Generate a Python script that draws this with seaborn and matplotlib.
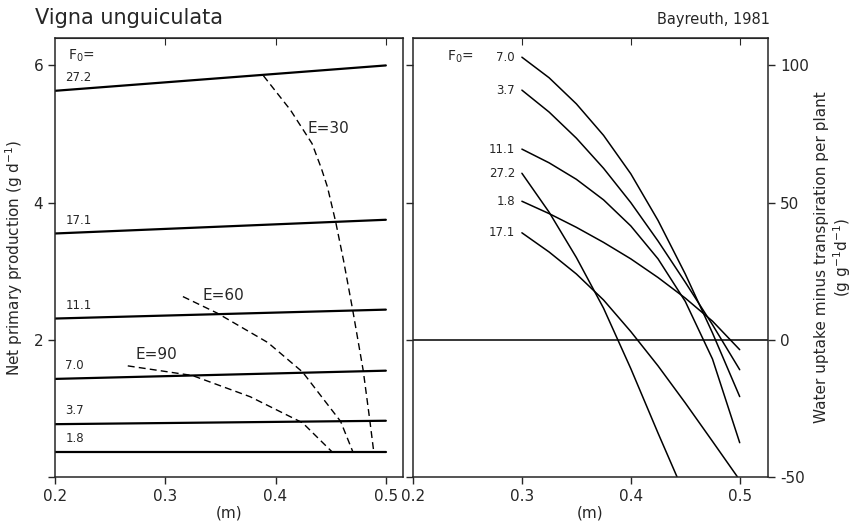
import numpy as np
import pandas as pd
import seaborn as sns
import matplotlib.pyplot as plt

sns.set_style("ticks")
plt.rcParams["font.family"] = ["DejaVu Sans"]

# left panel: net primary production (g/d) vs depth, one line per F0
x_npp = [0.2, 0.5]
npp_27_2 = [5.63, 6.00]
npp_17_1 = [3.55, 3.75]
npp_11_1 = [2.31, 2.44]
npp_7_0 = [1.43, 1.55]
npp_3_7 = [0.77, 0.82]
npp_1_8 = [0.37, 0.37]
npp_labels = ["27.2", "17.1", "11.1", "7.0", "3.7", "1.8"]

# dashed isolines of E
e30_x = [0.389, 0.4135, 0.4331, 0.4415, 0.447, 0.4545, 0.4616, 0.470, 0.4795, 0.4855, 0.489]
e30_y = [5.85, 5.35, 4.86, 4.50, 4.23, 3.72, 3.16, 2.43, 1.55, 0.82, 0.37]
e60_x = [0.316, 0.347, 0.393, 0.4245, 0.459, 0.470]
e60_y = [2.63, 2.39, 1.96, 1.53, 0.81, 0.37]
e90_x = [0.266, 0.3245, 0.377, 0.4245, 0.451]
e90_y = [1.62, 1.48, 1.17, 0.79, 0.37]

# right panel: water uptake minus transpiration per plant
w_x = [0.30, 0.325, 0.35, 0.375, 0.40, 0.425, 0.45, 0.475, 0.50]
w_7_0 = [103, 95.5, 86, 74.5, 60.5, 43.5, 24, 2.5, -20.7]
w_3_7 = [91, 83, 73.5, 62.5, 50, 36, 21, 5.5, -10.9]
w_11_1 = [69.5, 64.5, 58.5, 51, 41.5, 29.5, 14, -7, -37.5]
w_1_8 = [50.5, 46, 41, 35.5, 29.5, 22.7, 15.2, 6.8, -3.6]
w_27_2_x = [0.30, 0.325, 0.35, 0.375, 0.40, 0.425, 0.4425]
w_27_2 = [60.7, 46.5, 30, 11.5, -10.5, -34, -50]
w_17_1_x = [0.30, 0.325, 0.35, 0.375, 0.40, 0.425, 0.45, 0.475, 0.498]
w_17_1 = [39, 32, 24, 14.5, 3, -9.5, -23, -37, -50]

fig = plt.figure(figsize=(8.51, 5.24), dpi=100)
ax1 = fig.add_axes([0.0646, 0.0897, 0.4089, 0.8378])
ax2 = fig.add_axes([0.4853, 0.0897, 0.4172, 0.8378])

# ---- left panel
npp_series = [npp_27_2, npp_17_1, npp_11_1, npp_7_0, npp_3_7, npp_1_8]
for lab, ys in zip(npp_labels, npp_series):
    sns.lineplot(x=x_npp, y=ys, ax=ax1, color="black", lw=1.6, estimator=None)
    ax1.text(0.2095, ys[0] + 0.1, lab, fontsize=8.5, ha="left", va="bottom")
ax1.text(0.2115, 6.02, "F$_0$=", fontsize=10, ha="left", va="bottom")

for ex, ey, lab, tx, ty in [(e30_x, e30_y, "E=30", 0.429, 5.08),
                            (e60_x, e60_y, "E=60", 0.334, 2.65),
                            (e90_x, e90_y, "E=90", 0.273, 1.78)]:
    sns.lineplot(x=ex, y=ey, ax=ax1, color="black", lw=1.0,
                 linestyle=(0, (5, 3)), estimator=None)
    ax1.text(tx, ty, lab, fontsize=11, ha="left", va="center")

ax1.set_xlim(0.2, 0.5155)
ax1.set_ylim(0, 6.4)
ax1.set_xticks([0.2, 0.3, 0.4, 0.5])
ax1.set_xticklabels(["0.2", "0.3", "0.4", "0.5"])
ax1.set_yticks([0, 2, 4, 6])
ax1.set_yticklabels(["", "2", "4", "6"])
ax1.set_xlabel("(m)", fontsize=11, labelpad=1)
ax1.set_ylabel("Net primary production (g d$^{-1}$)", fontsize=11, labelpad=6)
ax1.tick_params(direction="out", length=5, labelsize=11, width=1)
top1 = ax1.secondary_xaxis("top")
top1.set_xticks([0.3, 0.4, 0.5])
top1.tick_params(direction="in", length=5, labeltop=False)

# ---- right panel
w_series = [(w_x, w_7_0, "7.0"), (w_x, w_3_7, "3.7"), (w_x, w_11_1, "11.1"),
            (w_27_2_x, w_27_2, "27.2"), (w_x, w_1_8, "1.8"),
            (w_17_1_x, w_17_1, "17.1")]
for xs, ys, lab in w_series:
    sns.lineplot(x=xs, y=ys, ax=ax2, color="black", lw=1.1, estimator=None)
    ax2.text(0.2936, ys[0], lab, fontsize=8.5, ha="right", va="center")
ax2.text(0.2555, w_7_0[0], "F$_0$=", fontsize=10, ha="right", va="center")
ax2.axhline(0, color="black", lw=1.1)

ax2.set_xlim(0.2, 0.526)
ax2.set_ylim(-50, 110)
ax2.set_xticks([0.2, 0.3, 0.4, 0.5])
ax2.set_xticklabels(["0.2", "0.3", "0.4", "0.5"])
ax2.set_yticks([-50, 0, 50, 100])
ax2.set_yticklabels(["-50", "0", "50", "100"])
ax2.tick_params(axis="both", direction="out", length=5, labelsize=11, width=1)
ax2.tick_params(axis="y", left=True, right=True, labelleft=False, labelright=True)
ax2.yaxis.set_label_position("right")
ax2.set_xlabel("(m)", fontsize=11, labelpad=1)
ax2.set_ylabel("Water uptake minus transpiration per plant\n(g g$^{-1}$d$^{-1}$)",
               fontsize=11, labelpad=4, linespacing=1.1)
top2 = ax2.secondary_xaxis("top")
top2.set_xticks([0.3, 0.4, 0.5])
top2.tick_params(direction="in", length=5, labeltop=False)

for ax in (ax1, ax2):
    for s in ax.spines.values():
        s.set_linewidth(1.1)
        s.set_visible(True)

fig.text(0.041, 0.966, "Vigna unguiculata", fontsize=15, ha="left", va="center")
fig.text(0.905, 0.962, "Bayreuth, 1981", fontsize=10.5, ha="right", va="center")

fig.savefig("out.png", dpi=100)
